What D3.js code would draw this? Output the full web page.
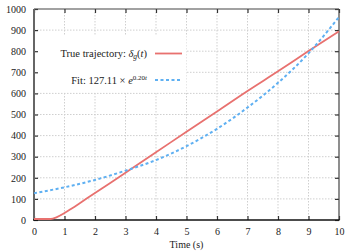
<!DOCTYPE html>
<html>
<head>
<meta charset="utf-8">
<script src="https://d3js.org/d3.v7.min.js"></script>
<style>
body { margin: 0; background: #fff; }
text { font-family: "Liberation Serif", "DejaVu Serif", serif; fill: #222; }
.grid line { stroke: #cfcfcf; stroke-dasharray: 1.5,1.5; }
</style>
</head>
<body>
<script>

// values
var trueT   = [0, 0.5, 0.55, 0.75, 1, 1.25, 1.5, 2, 2.5, 3, 4, 5, 6, 7, 8, 9, 10];
var trueVal = [0, 0, 0, 9, 28, 51, 75, 123, 171, 219, 316, 414, 510, 607, 700, 796, 889];

var fitT   = [0, 1, 2, 3, 4, 5, 6, 7, 8, 9, 10];
var fitVal = [127, 155, 190, 234, 284, 350, 432, 533, 650, 790, 962];

var xTicks = [0, 1, 2, 3, 4, 5, 6, 7, 8, 9, 10];
var yTicks = [0, 100, 200, 300, 400, 500, 600, 700, 800, 900, 1000];

var legendLabels = ["True trajectory: ", "Fit: 127.11 \u00d7 "];

var margin = {top: 9, right: 16, bottom: 31, left: 34},
    width = 355 - margin.left - margin.right,
    height = 251 - margin.top - margin.bottom;

var x = d3.scaleLinear().domain([0, 10]).range([0, width]);
var y = d3.scaleLinear().domain([0, 1000]).range([height, 0]);

var svg = d3.select("body").append("svg")
    .attr("width", 355)
    .attr("height", 251)
  .append("g")
    .attr("transform", "translate(" + margin.left + "," + margin.top + ")");

// grid
svg.append("g").attr("class", "grid")
  .selectAll("line").data(xTicks.slice(1, -1)).enter().append("line")
    .attr("x1", d => x(d)).attr("x2", d => x(d))
    .attr("y1", 0).attr("y2", height);
svg.append("g").attr("class", "grid")
  .selectAll("line").data(yTicks.slice(1, -1)).enter().append("line")
    .attr("y1", d => y(d)).attr("y2", d => y(d))
    .attr("x1", 0).attr("x2", width);

// legend box (white, hides grid)
var lg = svg.append("g");
lg.append("rect")
    .attr("x", 1.5).attr("y", 26)
    .attr("width", 151).attr("height", 57)
    .attr("fill", "#fff");

var t1 = lg.append("text")
    .attr("x", 113).attr("y", 48)
    .attr("text-anchor", "end")
    .style("font-size", "10.5px");
t1.append("tspan").text(legendLabels[0]);
t1.append("tspan").text("\u03b4").style("font-style", "italic");
t1.append("tspan").text("g").style("font-style", "italic")
    .attr("dy", 2).style("font-size", "7.5px");
t1.append("tspan").text("(").attr("dy", -2);
t1.append("tspan").text("t").style("font-style", "italic");
t1.append("tspan").text(")");

var t2 = lg.append("text")
    .attr("x", 113).attr("y", 75)
    .attr("text-anchor", "end")
    .style("font-size", "10.5px");
t2.append("tspan").text(legendLabels[1]);
t2.append("tspan").text("e").style("font-style", "italic");
t2.append("tspan").text("0.20").attr("dy", -4).style("font-size", "7px");
t2.append("tspan").text("t").style("font-style", "italic").style("font-size", "7px");

lg.append("line")
    .attr("x1", 121).attr("x2", 148)
    .attr("y1", 44.5).attr("y2", 44.5)
    .attr("stroke", "#e8716f").attr("stroke-width", 1.8);
lg.append("line")
    .attr("x1", 121).attr("x2", 148)
    .attr("y1", 71).attr("y2", 71)
    .attr("stroke", "#5fb0f2").attr("stroke-width", 2)
    .attr("stroke-dasharray", "3,2.5");

// axes
var xAxis = svg.append("g")
    .attr("transform", "translate(0," + height + ")")
    .call(d3.axisBottom(x).tickValues(xTicks).tickSize(-4).tickPadding(8).tickFormat(d3.format("d")));
var xTop = svg.append("g")
    .call(d3.axisTop(x).tickValues(xTicks).tickSize(-4).tickFormat(""));
var yAxis = svg.append("g")
    .call(d3.axisLeft(y).tickValues(yTicks).tickSize(-4).tickPadding(8).tickFormat(d3.format("d")));
var yRight = svg.append("g")
    .attr("transform", "translate(" + width + ",0)")
    .call(d3.axisRight(y).tickValues(yTicks).tickSize(-4).tickFormat(""));

[xAxis, xTop, yAxis, yRight].forEach(function(g) {
  g.selectAll(".domain").remove();
  g.selectAll(".tick line").attr("stroke", "#333").attr("stroke-width", 1.2);
  g.selectAll("text").style("font-size", "10px").attr("fill", "#222")
    .style("font-family", "'Liberation Serif', 'DejaVu Serif', serif");
});

// frame
svg.append("line").attr("x1", 0).attr("x2", width).attr("y1", 0).attr("y2", 0)
    .attr("stroke", "#444").attr("stroke-width", 1.2);
svg.append("line").attr("x1", width).attr("x2", width).attr("y1", 0).attr("y2", height)
    .attr("stroke", "#444").attr("stroke-width", 1.2);
svg.append("line").attr("x1", 0).attr("x2", 0).attr("y1", 0).attr("y2", height)
    .attr("stroke", "#666").attr("stroke-width", 2);
svg.append("line").attr("x1", -1).attr("x2", width + 0.6).attr("y1", height).attr("y2", height)
    .attr("stroke", "#111").attr("stroke-width", 1.5);

// lines (drawn over the frame)
var trueData = trueT.map((t, i) => [t, trueVal[i]]);
var fitData = fitT.map((t, i) => [t, fitVal[i]]);

var line = d3.line()
    .x(d => x(d[0]))
    .y(d => y(d[1]))
    .curve(d3.curveMonotoneX);

svg.append("path").datum(trueData)
    .attr("d", line)
    .attr("transform", "translate(0,-1)")
    .attr("fill", "none")
    .attr("stroke", "#e8716f")
    .attr("stroke-width", 1.8);

svg.append("path").datum(fitData)
    .attr("d", line)
    .attr("fill", "none")
    .attr("stroke", "#5fb0f2")
    .attr("stroke-width", 2)
    .attr("stroke-dasharray", "3,2.5");

// axis title
svg.append("text")
    .attr("x", x(5))
    .attr("y", height + 28)
    .attr("text-anchor", "middle")
    .style("font-size", "10px")
    .text("Time (s)");

</script>
</body>
</html>
